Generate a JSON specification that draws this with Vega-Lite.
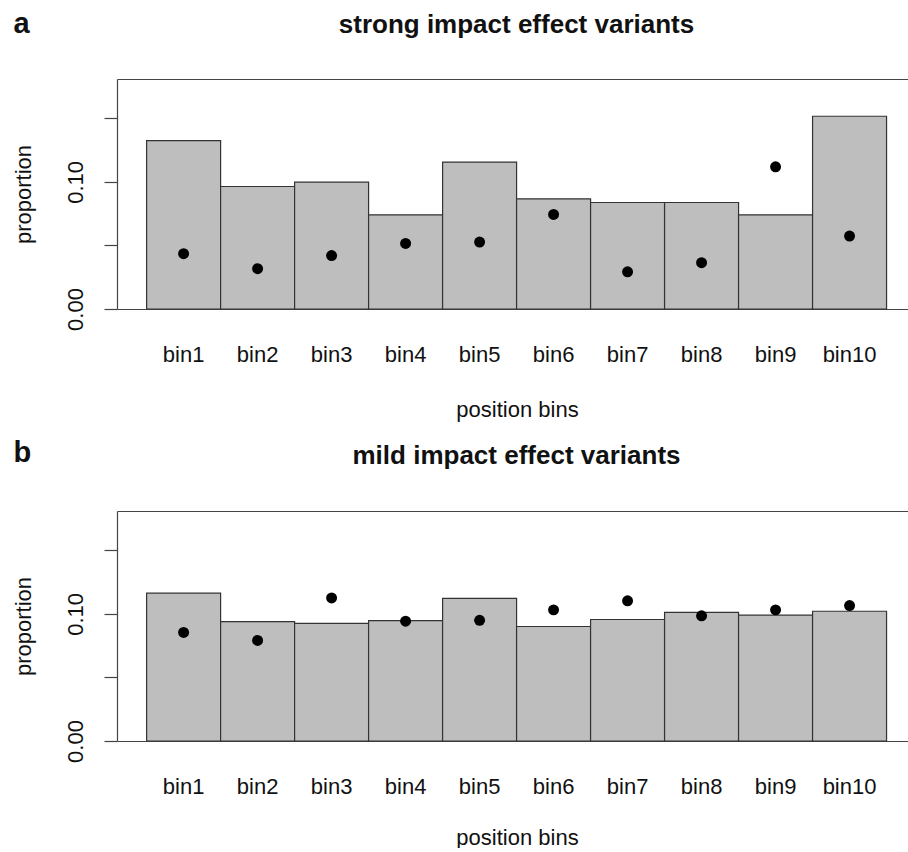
{
  "$schema": "https://vega.github.io/schema/vega-lite/v6.json",
  "background": "white",
  "padding": {"left": 12, "top": 9, "right": 0, "bottom": 0},
  "autosize": {"type": "pad"},
  "config": {
    "view": {"stroke": null},
    "font": "Liberation Sans",
    "axis": {
      "labelFont": "Liberation Sans",
      "titleFont": "Liberation Sans",
      "labelFontSize": 22,
      "titleFontSize": 22,
      "titleFontWeight": "normal",
      "labelColor": "#111",
      "titleColor": "#111",
      "domainColor": "#444",
      "tickColor": "#444",
      "domainWidth": 1.2,
      "tickWidth": 1.2,
      "grid": false
    }
  },
  "datasets": {
    "a": [
      {"bin": "bin1", "bar": 0.1325, "dot": 0.0435},
      {"bin": "bin2", "bar": 0.0964, "dot": 0.0317},
      {"bin": "bin3", "bar": 0.0998, "dot": 0.0421},
      {"bin": "bin4", "bar": 0.0741, "dot": 0.0516},
      {"bin": "bin5", "bar": 0.1156, "dot": 0.0527},
      {"bin": "bin6", "bar": 0.0867, "dot": 0.0744},
      {"bin": "bin7", "bar": 0.0838, "dot": 0.0293},
      {"bin": "bin8", "bar": 0.0838, "dot": 0.0364},
      {"bin": "bin9", "bar": 0.0741, "dot": 0.1119},
      {"bin": "bin10", "bar": 0.1517, "dot": 0.0574}
    ],
    "b": [
      {"bin": "bin1", "bar": 0.1163, "dot": 0.0854},
      {"bin": "bin2", "bar": 0.0940, "dot": 0.0791},
      {"bin": "bin3", "bar": 0.0925, "dot": 0.1126},
      {"bin": "bin4", "bar": 0.0948, "dot": 0.0943},
      {"bin": "bin5", "bar": 0.1123, "dot": 0.0950},
      {"bin": "bin6", "bar": 0.0901, "dot": 0.1032},
      {"bin": "bin7", "bar": 0.0956, "dot": 0.1103},
      {"bin": "bin8", "bar": 0.1013, "dot": 0.0985},
      {"bin": "bin9", "bar": 0.0990, "dot": 0.1032},
      {"bin": "bin10", "bar": 0.1021, "dot": 0.1066}
    ]
  },
  "spacing": 18,
  "vconcat": [
    {
      "width": 791,
      "height": 230,
      "data": {"name": "a"},
      "title": {"text": "strong impact effect variants", "font": "Liberation Sans", "fontSize": 26, "fontWeight": "bold", "color": "#111", "anchor": "middle", "frame": "group", "dx": 4, "baseline": "alphabetic", "offset": -50},
      "resolve": {"axis": {"x": "independent"}},
      "layer": [
        {
          "mark": {"type": "bar", "fill": "#bebebe", "stroke": "#333", "strokeWidth": 1.2},
          "encoding": {
            "x": {"field": "bin", "type": "nominal", "sort": null,
              "scale": {"paddingInner": 0, "paddingOuter": 0.345, "align": 0.58},
              "axis": {"orient": "bottom", "title": "position bins", "labelAngle": 0, "ticks": false, "tickSize": 0, "labelPadding": 52, "labelBaseline": "alphabetic", "titleX": 400, "titleY": 107, "titleAlign": "center", "titleBaseline": "alphabetic"}},
            "y": {"field": "bar", "type": "quantitative",
              "scale": {"domain": [0, 0.181], "nice": false, "zero": true},
              "axis": {"orient": "left", "values": [0, 0.05, 0.1, 0.15], "labelExpr": "datum.value < 0.001 ? '0.00' : (abs(datum.value - 0.1) < 0.001 ? '0.10' : '')", "labelAngle": 270, "labelAlign": "center", "labelBaseline": "bottom", "labelPadding": 17, "tickSize": 13, "labelFlush": false, "labelOverlap": false, "title": "proportion", "titleAngle": 270, "titleX": -87, "titleY": 115, "titleAlign": "center", "titleBaseline": "alphabetic"}}
          }
        },
        {
          "mark": {"type": "point", "filled": true, "color": "#000", "opacity": 1, "size": 120},
          "encoding": {
            "x": {"field": "bin", "type": "nominal", "sort": null,
              "axis": {"orient": "top", "labels": false, "ticks": false, "title": "a", "titleFontSize": 29, "titleFontWeight": "bold", "titleX": -104, "titleY": -47, "titleAlign": "left", "titleBaseline": "alphabetic", "titleAngle": 0}},
            "y": {"field": "dot", "type": "quantitative", "scale": {"domain": [0, 0.181], "nice": false, "zero": true}}
          }
        }
      ]
    },
    {
      "width": 791,
      "height": 230,
      "data": {"name": "b"},
      "title": {"text": "mild impact effect variants", "font": "Liberation Sans", "fontSize": 26, "fontWeight": "bold", "color": "#111", "anchor": "middle", "frame": "group", "dx": 4, "baseline": "alphabetic", "offset": -52},
      "resolve": {"axis": {"x": "independent"}},
      "layer": [
        {
          "mark": {"type": "bar", "fill": "#bebebe", "stroke": "#333", "strokeWidth": 1.2},
          "encoding": {
            "x": {"field": "bin", "type": "nominal", "sort": null,
              "scale": {"paddingInner": 0, "paddingOuter": 0.345, "align": 0.58},
              "axis": {"orient": "bottom", "title": "position bins", "labelAngle": 0, "ticks": false, "tickSize": 0, "labelPadding": 52, "labelBaseline": "alphabetic", "titleX": 400, "titleY": 103, "titleAlign": "center", "titleBaseline": "alphabetic"}},
            "y": {"field": "bar", "type": "quantitative",
              "scale": {"domain": [0, 0.181], "nice": false, "zero": true},
              "axis": {"orient": "left", "values": [0, 0.05, 0.1, 0.15], "labelExpr": "datum.value < 0.001 ? '0.00' : (abs(datum.value - 0.1) < 0.001 ? '0.10' : '')", "labelAngle": 270, "labelAlign": "center", "labelBaseline": "bottom", "labelPadding": 17, "tickSize": 13, "labelFlush": false, "labelOverlap": false, "title": "proportion", "titleAngle": 270, "titleX": -87, "titleY": 115, "titleAlign": "center", "titleBaseline": "alphabetic"}}
          }
        },
        {
          "mark": {"type": "point", "filled": true, "color": "#000", "opacity": 1, "size": 120},
          "encoding": {
            "x": {"field": "bin", "type": "nominal", "sort": null,
              "axis": {"orient": "top", "labels": false, "ticks": false, "title": "b", "titleFontSize": 29, "titleFontWeight": "bold", "titleX": -104, "titleY": -50, "titleAlign": "left", "titleBaseline": "alphabetic", "titleAngle": 0}},
            "y": {"field": "dot", "type": "quantitative", "scale": {"domain": [0, 0.181], "nice": false, "zero": true}}
          }
        }
      ]
    }
  ]
}
